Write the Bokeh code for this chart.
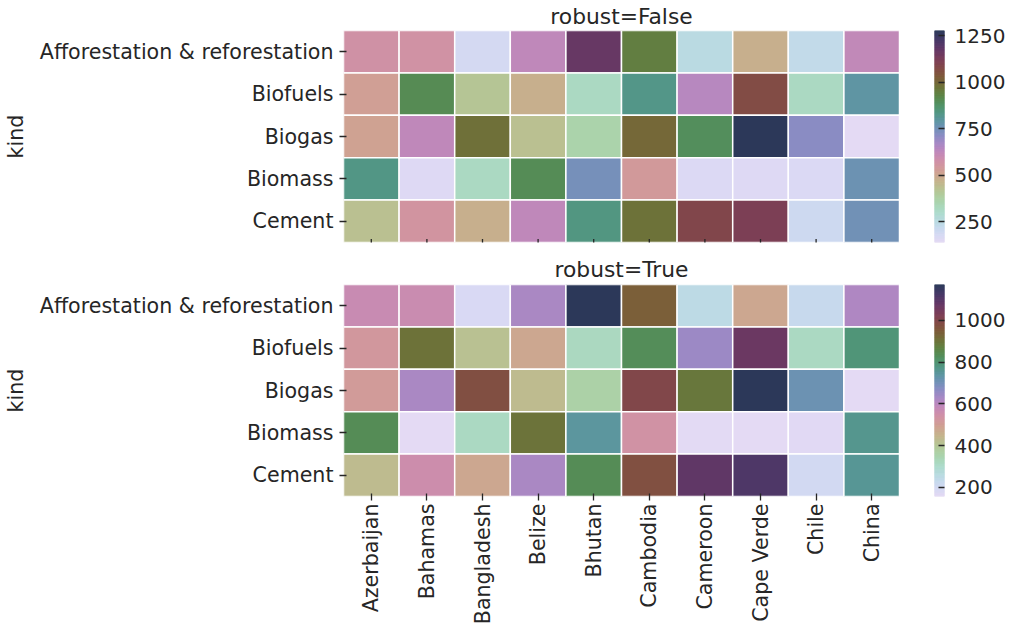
import math
import numpy as np
from bokeh.plotting import figure
from bokeh.models import (FactorRange, Range1d, LinearColorMapper, FixedTicker,
                          ColumnDataSource, Title)
from bokeh.transform import dodge
from bokeh.layouts import column, row
from bokeh.embed import file_html
from bokeh.resources import INLINE

# ---------------- data ----------------
countries = ['Azerbaijan', 'Bahamas', 'Bangladesh', 'Belize', 'Bhutan',
             'Cambodia', 'Cameroon', 'Cape Verde', 'Chile', 'China']
kinds = ['Afforestation & reforestation', 'Biofuels', 'Biogas', 'Biomass', 'Cement']

afforestation = [570, 566, 185, 625, 1170, 945, 250, 480, 228, 620]
biofuels      = [523, 905, 415, 480, 320, 832, 645, 1068, 318, 792]
biogas        = [513, 625, 980, 432, 363, 1000, 893, 1277, 715, 138]
biomass       = [835, 160, 316, 900, 744, 540, 162, 157, 165, 765]
cement        = [432, 560, 480, 625, 838, 975, 1087, 1115, 202, 756]

cbar_ticks_false = [250, 500, 750, 1000, 1250]
cbar_ticks_true = [200, 400, 600, 800, 1000]
titles = ['robust=False', 'robust=True']
y_label = 'kind'

rows = [afforestation, biofuels, biogas, biomass, cement]


# ---------------- colormap: seaborn cubehelix_palette(start=1.5, rot=3, gamma=.8) ----------------
def cubehelix(n=256, start=1.5, rot=3.0, gamma=0.8, hue=0.8, light=0.85, dark=0.15):
    x = np.linspace(light, dark, n)
    xg = x ** gamma
    a = hue * xg * (1 - xg) / 2
    phi = 2 * np.pi * (start / 3 + rot * x)
    r = xg + a * (-0.14861 * np.cos(phi) + 1.78277 * np.sin(phi))
    g = xg + a * (-0.29227 * np.cos(phi) - 0.90649 * np.sin(phi))
    b = xg + a * (1.97294 * np.cos(phi))
    rgb = np.clip(np.stack([r, g, b], axis=1), 0, 1)
    return ['#%02x%02x%02x' % tuple(int(round(c * 255)) for c in rr) for rr in rgb]


palette = cubehelix()

# long-form table
xs, ys, vals = [], [], []
for k, rr in zip(kinds, rows):
    for c, v in zip(countries, rr):
        xs.append(c); ys.append(k); vals.append(v)
src = ColumnDataSource(dict(country=xs, kind=ys, value=vals))
tick_src = ColumnDataSource(dict(country=countries, kind=[kinds[-1]] * len(countries)))

arr = np.array(vals, dtype=float)
limits = [(arr.min(), arr.max()),
          (np.percentile(arr, 2), np.percentile(arr, 98))]

FONT = "DejaVu Sans"
TXT = "#262626"
TICK_FS = '20.6px'


def style_axis(ax):
    ax.axis_line_color = None
    ax.major_tick_line_color = TXT
    ax.major_tick_line_width = 1.3
    ax.minor_tick_line_color = None
    ax.major_label_text_font = FONT
    ax.major_label_text_color = TXT


def make_heatmap(idx, show_xlabels, top_border, bottom_border, title_standoff):
    lo, hi = limits[idx]
    mapper = LinearColorMapper(palette=palette, low=lo, high=hi)
    p = figure(x_range=FactorRange(*countries), y_range=FactorRange(*kinds[::-1]),
               frame_width=556, frame_height=212,
               min_border_left=342, min_border_right=0,
               min_border_top=top_border, min_border_bottom=bottom_border,
               x_axis_location='below' if show_xlabels else None,
               output_backend="svg", toolbar_location=None)
    p.rect(x='country', y='kind', width=1, height=1, source=src,
           fill_color={'field': 'value', 'transform': mapper},
           line_color='white', line_width=1.5)
    p.outline_line_color = None
    p.grid.visible = False
    p.background_fill_color = 'white'

    axes = [p.yaxis[0]] + ([p.xaxis[0]] if show_xlabels else [])
    for ax in axes:
        style_axis(ax)
        ax.major_tick_in = 3
        ax.major_tick_out = 4
        ax.major_label_text_font_size = TICK_FS

    p.yaxis.major_label_standoff = 6
    p.yaxis.axis_label = y_label
    p.yaxis.axis_label_text_font = FONT
    p.yaxis.axis_label_text_font_style = 'normal'
    p.yaxis.axis_label_text_font_size = TICK_FS
    p.yaxis.axis_label_text_color = TXT
    p.yaxis.axis_label_standoff = 9

    if show_xlabels:
        p.xaxis.major_label_orientation = math.pi / 2
        p.xaxis.major_label_standoff = 3
    else:
        # unlabeled x tick marks along the bottom edge of the heatmap
        p.segment(x0='country', x1='country',
                  y0=dodge('kind', -0.58, range=p.y_range),
                  y1=dodge('kind', -0.42, range=p.y_range),
                  source=tick_src, line_color=TXT, line_width=1.3)

    t = Title(text=titles[idx], align='center', text_font=FONT, text_font_size='21.8px',
              text_font_style='normal', text_color=TXT, standoff=title_standoff)
    p.add_layout(t, 'above')
    return p, mapper


def make_cbar(idx, mapper, top_border, bottom_border):
    lo, hi = limits[idx]
    c = figure(x_range=Range1d(0, 1), y_range=Range1d(lo, hi),
               frame_width=10, frame_height=212,
               min_border_left=35, min_border_right=0,
               min_border_top=top_border, min_border_bottom=bottom_border,
               y_axis_location='right', x_axis_location=None,
               output_backend="svg", toolbar_location=None)
    edges = np.linspace(lo, hi, len(palette) + 1)
    c.quad(left=0, right=1, bottom=edges[:-1], top=edges[1:],
           fill_color=palette, line_color=palette, line_width=0.8)
    c.outline_line_color = None
    c.grid.visible = False
    ax = c.yaxis[0]
    style_axis(ax)
    ax.ticker = FixedTicker(ticks=cbar_ticks_false if idx == 0 else cbar_ticks_true)
    ax.minor_tick_line_color = None
    ax.major_tick_in = 6
    ax.major_tick_out = 0
    ax.major_label_standoff = 10
    ax.major_label_text_font_size = '20px'
    return c


hm_top, m_top = make_heatmap(0, False, 30, 5, 3)
cb_top = make_cbar(0, m_top, 30, 5)
hm_bot, m_bot = make_heatmap(1, True, 37, 121, 6)
cb_bot = make_cbar(1, m_bot, 37, 121)

layout = column(row(hm_top, cb_top, spacing=0), row(hm_bot, cb_bot, spacing=0), spacing=0)
open("out.html", "w").write(file_html(layout, INLINE))
